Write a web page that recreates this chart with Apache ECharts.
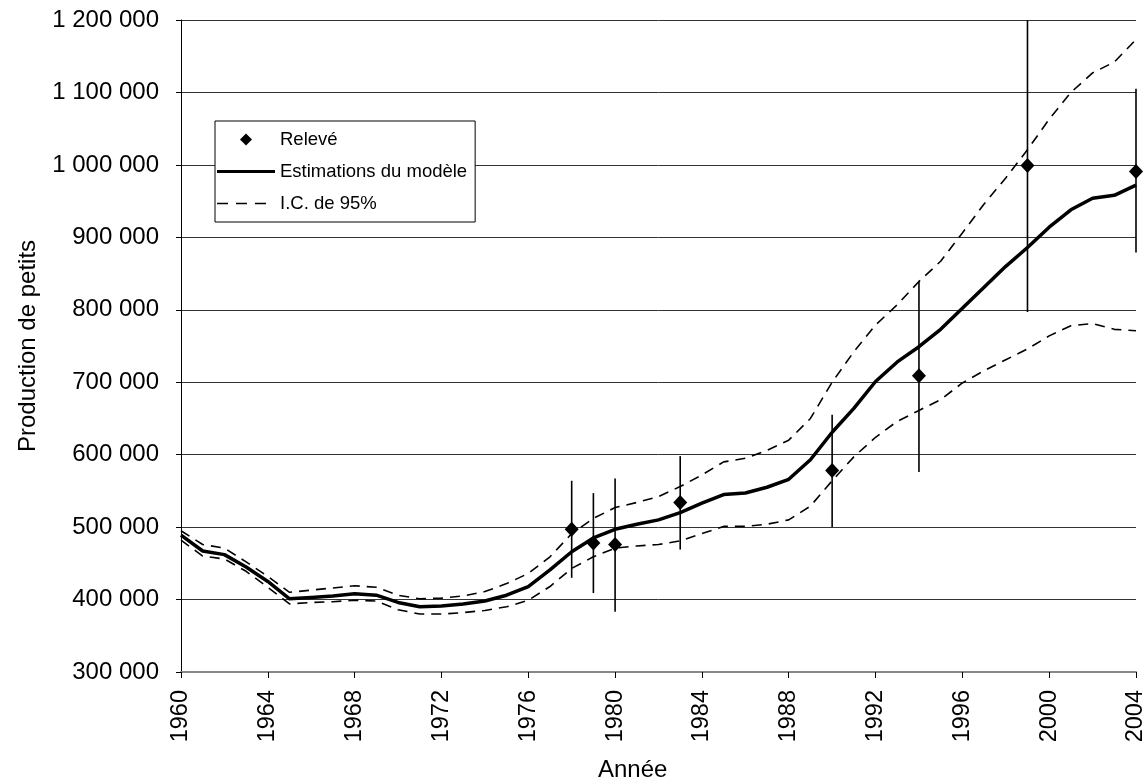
<!DOCTYPE html>
<html>
<head>
<meta charset="utf-8">
<script src="https://cdn.jsdelivr.net/npm/echarts@6/dist/echarts.min.js"></script>
<style>
html,body{margin:0;padding:0;background:#fff;}
#chart{width:1148px;height:782px;}
</style>
</head>
<body>
<div id="chart"></div>
<script>
// ---- data ----
const years = [1960,1961,1962,1963,1964,1965,1966,1967,1968,1969,1970,1971,1972,1973,1974,1975,1976,1977,1978,1979,1980,1981,1982,1983,1984,1985,1986,1987,1988,1989,1990,1991,1992,1993,1994,1995,1996,1997,1998,1999,2000,2001,2002,2003,2004];
const modelValues = [489000,467000,462000,445000,425000,401000,403000,405000,408000,406000,396000,390000,391000,394000,398000,406000,418000,441000,466000,485000,497000,504000,510000,520000,533000,545000,547000,555000,566000,593000,631000,664000,701000,728000,749000,773000,802000,831000,860000,886000,914000,938000,954000,958000,972000];
const upperCI = [495000,476000,471000,452000,432000,410000,413000,416000,419000,417000,406000,401000,402000,405000,411000,422000,436000,459000,491000,512000,527000,534000,542000,556000,572000,590000,595000,606000,620000,650000,700000,742000,779000,807000,839000,867000,906000,946000,982000,1021000,1063000,1100000,1127000,1142000,1173000];
const lowerCI = [482000,460000,456000,439000,417000,394000,396000,397000,399000,398000,386000,380000,380000,382000,385000,390000,399000,418000,443000,459000,471000,474000,476000,481000,491000,501000,501000,504000,510000,529000,564000,597000,624000,646000,661000,676000,699000,716000,731000,746000,764000,778000,781000,773000,771000];
const obsYears = [1978,1979,1980,1983,1990,1994,1999,2004];
const obsValues = [497000,478000,476000,534000,578000,709000,999000,991000];
const obsLow = [430000,409000,383000,469000,500000,576000,797000,879000];
const obsHigh = [564000,547000,567000,598000,655000,840000,1200000,1105000];
const yTicks = {min:300000, max:1200000, interval:100000};
const xTicks = {min:1960, max:2004, interval:4};
const seriesNames = {obs:'Relevé', model:'Estimations du modèle', ci:'I.C. de 95%'};
const axisTitles = {x:'Année', y:'Production de petits'};

// ---- build ----
const pair = (xs, vs) => xs.map((x,i)=>[x, vs[i]]);
const fmt = v => String(v).replace(/\B(?=(\d{3})+(?!\d))/g, ' ');
const FONT = '"Liberation Sans", Arial, sans-serif';

// legend icons (pure shapes, sized by the legend box)
const ICON_DIAMOND = 'path://M29,0L35,6L29,12L23,6Z M0,0 M58,12';
const ICON_SOLID = 'path://M0,4.5h58v3h-58z M0,0 M58,12';
const ICON_DASH = 'path://M0,5.2h11v1.6h-11z M19,5.2h11v1.6h-11z M38,5.2h11v1.6h-11z M0,0 M58,12';

const chart = echarts.init(document.getElementById('chart'), null, {renderer:'canvas'});
chart.setOption({
  animation:false,
  backgroundColor:'#fff',
  grid:{left:181, right:11, top:20, bottom:110, containLabel:false},
  xAxis:{
    type:'value', min:xTicks.min, max:xTicks.max, interval:xTicks.interval,
    axisLine:{show:true, onZero:false, lineStyle:{color:'#888', width:2}},
    axisTick:{show:true, length:6, lineStyle:{color:'#000', width:1}},
    axisLabel:{rotate:90, margin:18, color:'#000', fontSize:23.5, fontFamily:FONT, formatter:v=>String(v)},
    splitLine:{show:false}
  },
  yAxis:{
    type:'value', min:yTicks.min, max:yTicks.max, interval:yTicks.interval,
    name:axisTitles.y, nameLocation:'middle', nameGap:141,
    nameTextStyle:{color:'#000', fontSize:24, fontFamily:FONT},
    axisLine:{show:true, lineStyle:{color:'#000', width:1}},
    axisTick:{show:true, length:5, lineStyle:{color:'#000'}},
    axisLabel:{margin:22, color:'#000', fontSize:24, fontFamily:FONT, formatter:fmt},
    splitLine:{show:true, lineStyle:{color:'#333', width:1}}
  },
  legend:{
    orient:'vertical', left:215, top:121,
    padding:[9,8,9,2], itemGap:13, itemWidth:58, itemHeight:12,
    borderColor:'#000', borderWidth:1, backgroundColor:'#fff',
    textStyle:{color:'#000', fontSize:18.5, fontFamily:FONT},
    itemStyle:{borderWidth:0},
    lineStyle:{width:0},
    data:[
      {name:seriesNames.obs, icon:ICON_DIAMOND, itemStyle:{color:'#000', borderWidth:0, opacity:1}},
      {name:seriesNames.model, icon:ICON_SOLID, itemStyle:{color:'#000', borderWidth:0}},
      {name:seriesNames.ci, icon:ICON_DASH, itemStyle:{color:'#000', borderWidth:0}}
    ]
  },
  graphic:[{
    type:'text', left:598, top:758,
    style:{text:axisTitles.x, fill:'#000', font:'24px "Liberation Sans", Arial, sans-serif'}
  }],
  series:[
    {name:seriesNames.ci, type:'line', data:pair(years, upperCI), symbol:'none',
     lineStyle:{color:'#000', width:1.6, type:[10,7]}, itemStyle:{color:'#000'}, z:2},
    {name:seriesNames.ci, type:'line', data:pair(years, lowerCI), symbol:'none',
     lineStyle:{color:'#000', width:1.6, type:[10,7]}, itemStyle:{color:'#000'}, z:2},
    {name:seriesNames.model, type:'line', data:pair(years, modelValues), symbol:'none',
     lineStyle:{color:'#000', width:3.5}, itemStyle:{color:'#000'}, z:3},
    {type:'custom', z:4,
     data:obsYears.map((y,i)=>[y, obsLow[i], obsHigh[i]]),
     renderItem:(params, api)=>{
       const a = api.coord([api.value(0), api.value(1)]);
       const b = api.coord([api.value(0), api.value(2)]);
       return {type:'line', shape:{x1:a[0], y1:a[1], x2:b[0], y2:b[1]},
               style:{stroke:'#000', lineWidth:1.6}};
     }},
    {name:seriesNames.obs, type:'scatter', data:pair(obsYears, obsValues),
     symbol:'diamond', symbolSize:[14,15], itemStyle:{color:'#000', opacity:1}, z:5}
  ]
});
</script>
</body>
</html>
